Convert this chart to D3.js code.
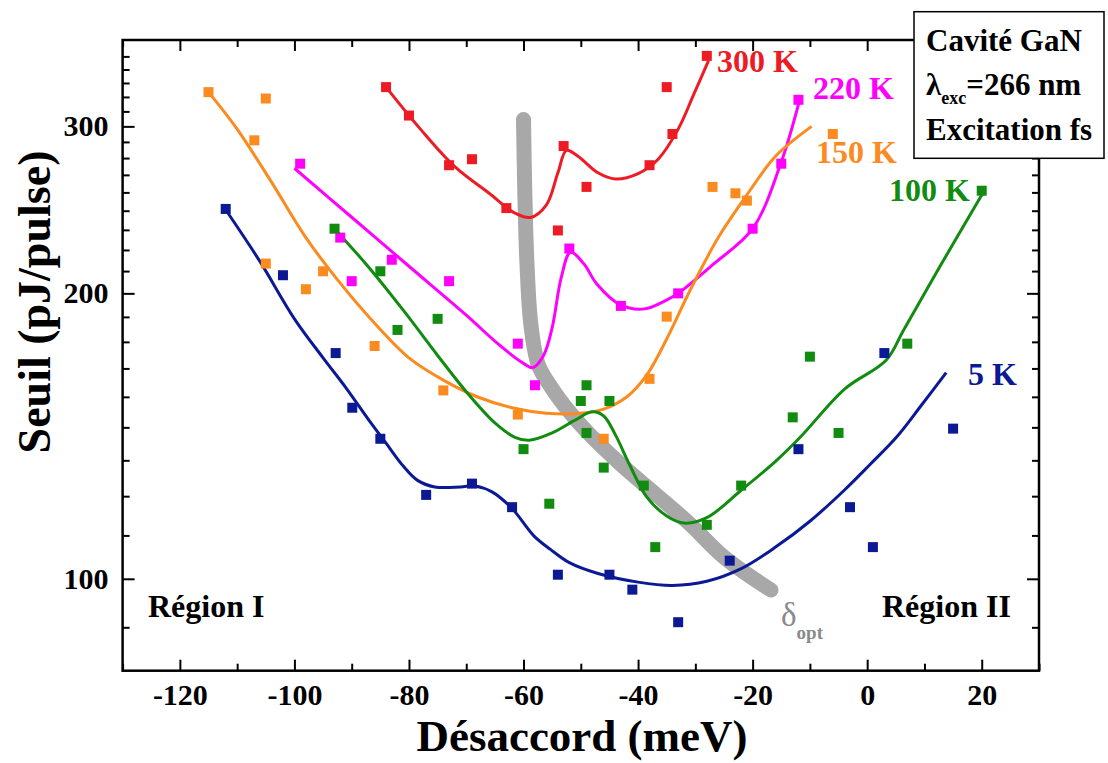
<!DOCTYPE html>
<html>
<head>
<meta charset="utf-8">
<script src="https://cdn.jsdelivr.net/npm/d3@7"></script>
<style>
  html, body { margin: 0; padding: 0; background: #fff; }
  svg { display: block; }
  text { font-family: "Liberation Serif", "Times New Roman", serif; font-weight: bold; }
</style>
</head>
<body>
<svg id="chart" width="1108" height="763"></svg>
<script>
// ---------- DATA ----------
const xTickValues = [-120, -100, -80, -60, -40, -20, 0, 20];
const yTickValues = [100, 200, 300];

// measured points [désaccord (meV), seuil (pJ/pulse)]
const pts300K = [[-84,330],[-80,308],[-73,273],[-69,277],[-63,246],[-54,233],[-53,286],[-49,259],[-38,273],[-34,294.5],[-35,330],[-28,356]];
const pts220K = [[-99,274],[-92,229],[-90,206],[-83,217],[-73,206],[-61,177],[-58,160],[-52,223],[-43,194],[-33,200],[-20,234],[-15,274],[-12,320]];
const pts150K = [[-115,326],[-107,290],[-105,321],[-105,215],[-98,202],[-95,211],[-86,176],[-74,158],[-61,149],[-46,140.5],[-38,162.5],[-35,189],[-27,259],[-23,255],[-21,250.5],[-6,294.5]];
const pts100K = [[-93,234],[-85,211],[-82,183],[-75,188],[-60,137],[-55.5,120],[-50,154],[-49,160],[-45,154],[-49,142.5],[-46,131],[-39,125.4],[-37,108],[-28,114],[-22,125.4],[-13,148],[-10,171.5],[-5,142.5],[7,177],[20,256.6]];
const pts5K   = [[-112,245.5],[-102,209],[-92.8,173],[-89.9,151.5],[-85,140.5],[-77,122.6],[-69,126],[-62,119],[-54,101],[-45,101],[-41,97.4],[-33,90],[-24,104.5],[-12,137],[-3,119],[1,108],[3,173],[15,144]];

// fitted (guide) curves
const fit300K = [[-84,330],[-78,298],[-72,272],[-66,255],[-61.5,243],[-58.8,240.5],[-56,248],[-54,268],[-52.5,283],[-50.5,279],[-47,268],[-44,264],[-40,267.5],[-36.5,277],[-33,298],[-30.3,324],[-27.7,352]];
const fit220K = [[-100,271],[-90,240.6],[-80,213.6],[-70,189.7],[-64.5,177],[-60.5,169.5],[-58.4,167],[-56.5,172],[-55,184],[-53.4,208],[-51.8,221],[-49.5,215],[-47.2,204.6],[-43.1,194.5],[-38.9,192.6],[-35.2,196.5],[-33,200],[-26.8,214.8],[-20,234],[-15.1,274],[-11.9,318]];
const fit150K = [[-115,326],[-110,298],[-104,262],[-98,229],[-92,205],[-86,186],[-80,171],[-74,162],[-68,155.5],[-62,151.5],[-56,149.5],[-50,149.5],[-46,151],[-42,155.5],[-38.5,164],[-35,179],[-31,201],[-26,229],[-21,254],[-16,279],[-9.7,300]];
const fit100K = [[-93,234],[-87,213],[-81,192],[-75,172],[-70,157.5],[-65,146],[-61.5,141],[-59,140],[-55,142.5],[-51,147],[-48,150],[-46,148.5],[-44,142],[-41.5,132],[-38.5,122],[-35,116.5],[-32,114.5],[-28,116],[-22,124],[-16,133],[-11.7,141],[-3.9,158.6],[3.3,170],[6.3,182.6],[13,215],[20.1,254.6]];
const fit5K   = [[-112,245],[-106,216],[-100,188],[-95,171],[-91,159],[-87,147],[-84,139],[-81,131.5],[-78.5,127],[-75.5,125],[-71,125],[-68.5,125.3],[-65.5,123.5],[-62,118.6],[-58.2,111],[-55.3,107.4],[-52,104],[-47,101.3],[-40,99.2],[-34,98.4],[-28,99.4],[-22,102.5],[-16,108],[-10,115],[-4,124],[0.5,132],[5.1,141],[9.5,152.5],[13.8,165]];

// delta_opt guide band
const deltaOpt = [[-60,305],[-59.8,260],[-59.4,215],[-58.7,185],[-57.4,168],[-55.1,159],[-52,150],[-49.1,143.3],[-43.1,132.2],[-37,122.9],[-31,114.3],[-25,105.4],[-16.8,97.3]];

const seriesNames  = ["300 K", "220 K", "150 K", "100 K", "5 K"];
const seriesColors = ["#ed1c24", "#ff00ff", "#fb8a1f", "#118c11", "#0b1a94"];
const seriesPoints = [pts300K, pts220K, pts150K, pts100K, pts5K];
const seriesFits   = [fit300K, fit220K, fit150K, fit100K, fit5K];

// ---------- LAYOUT ----------
const X0 = 122.6, X1 = 1039, Y0 = 670.7, Y1 = 40;
const labelXY = [[717, 72], [813, 99], [816, 163], [889, 201], [968, 385]];

const svg = d3.select("#chart");
const x = d3.scaleLinear().domain([-130, 30]).range([X0, X1]);
const y = d3.scaleLog().domain([80, 370]).range([Y0, Y1]);

// minor tick values
const xMinor = d3.range(-130, 31, 10).filter(v => !xTickValues.includes(v));
const yMinor = [];
[[80, 100], [100, 200], [200, 300], [300, 400]].forEach(([a, b]) => {
  const step = 100 / 9; // 8 minor ticks between majors, evenly spaced in value
  for (let v = b - step; v > a + 1e-6; v -= step) yMinor.push(v);
});
const yMinorIn = yMinor.filter(v => v > 80.5 && v < 362);

const gAxes = svg.append("g");
function styleAxis(g) {
  g.select(".domain").remove();
  g.selectAll(".tick line").attr("stroke", "#000").attr("stroke-width", 2);
  g.selectAll(".tick text").attr("fill", "#000")
    .style("font-size", "30px").style("font-weight", "bold")
    .style("font-family", '"Liberation Serif", "Times New Roman", serif');
}
const fmt = d => String(d);
// bottom
gAxes.append("g").attr("transform", `translate(0,${Y0})`)
  .call(d3.axisBottom(x).tickValues(xTickValues).tickSize(-11).tickPadding(13).tickFormat(fmt))
  .call(styleAxis);
gAxes.append("g").attr("transform", `translate(0,${Y0})`)
  .call(d3.axisBottom(x).tickValues(xMinor).tickSize(-7).tickFormat(""))
  .call(styleAxis);
// top
gAxes.append("g").attr("transform", `translate(0,${Y1})`)
  .call(d3.axisTop(x).tickValues(xTickValues).tickSize(-11).tickFormat(""))
  .call(styleAxis);
gAxes.append("g").attr("transform", `translate(0,${Y1})`)
  .call(d3.axisTop(x).tickValues(xMinor).tickSize(-7).tickFormat(""))
  .call(styleAxis);
// left
gAxes.append("g").attr("transform", `translate(${X0},0)`)
  .call(d3.axisLeft(y).tickValues(yTickValues).tickSize(-12).tickPadding(14).tickFormat(fmt))
  .call(styleAxis);
gAxes.append("g").attr("transform", `translate(${X0},0)`)
  .call(d3.axisLeft(y).tickValues(yMinorIn).tickSize(-7).tickFormat(""))
  .call(styleAxis);
// right
gAxes.append("g").attr("transform", `translate(${X1},0)`)
  .call(d3.axisRight(y).tickValues(yTickValues).tickSize(-12).tickFormat(""))
  .call(styleAxis);
gAxes.append("g").attr("transform", `translate(${X1},0)`)
  .call(d3.axisRight(y).tickValues(yMinorIn).tickSize(-7).tickFormat(""))
  .call(styleAxis);

// frame
svg.append("rect").attr("x", X0).attr("y", Y1).attr("width", X1 - X0).attr("height", Y0 - Y1)
  .attr("fill", "none").attr("stroke", "#000").attr("stroke-width", 2.5);

const line = d3.line().x(d => x(d[0])).y(d => y(d[1])).curve(d3.curveCatmullRom.alpha(0.5));

// delta_opt band
svg.append("path").datum(deltaOpt).attr("d", line)
  .attr("fill", "none").attr("stroke", "#a8a8a8").attr("stroke-width", 15)
  .attr("stroke-linecap", "round").attr("stroke-linejoin", "round");

// fit curves
seriesFits.forEach((f, i) => {
  svg.append("path").datum(f).attr("d", line)
    .attr("fill", "none").attr("stroke", seriesColors[i]).attr("stroke-width", 3);
});

// points
const S = 10;
seriesPoints.forEach((pts, i) => {
  svg.append("g").selectAll("rect").data(pts).join("rect")
    .attr("x", d => x(d[0]) - S / 2).attr("y", d => y(d[1]) - S / 2)
    .attr("width", S).attr("height", S).attr("fill", seriesColors[i]);
});

// series labels
seriesNames.forEach((n, i) => {
  svg.append("text").attr("x", labelXY[i][0]).attr("y", labelXY[i][1])
    .attr("fill", seriesColors[i]).style("font-size", "32px").text(n);
});

// region labels
svg.append("text").attr("x", 148).attr("y", 617).style("font-size", "32px").text("Région I");
svg.append("text").attr("x", 882).attr("y", 617).style("font-size", "32px").text("Région II");

// delta_opt label
const dl = svg.append("text").attr("x", 781).attr("y", 626).attr("fill", "#8a8a8a");
dl.append("tspan").style("font-size", "33px").style("font-weight", "normal").text("δ");
dl.append("tspan").attr("dy", 13).style("font-size", "19px").text("opt");

// axis titles
svg.append("text").attr("x", 582).attr("y", 751).attr("text-anchor", "middle")
  .style("font-size", "45px").text("Désaccord (meV)");
svg.append("text").attr("transform", "translate(50,302) rotate(-90)").attr("text-anchor", "middle")
  .style("font-size", "46px").text("Seuil (pJ/pulse)");

// info box
svg.append("rect").attr("x", 914).attr("y", 11.7).attr("width", 190).attr("height", 146.6)
  .attr("fill", "#fff").attr("stroke", "#000").attr("stroke-width", 1.5);
svg.append("text").attr("x", 926).attr("y", 51).style("font-size", "31px").text("Cavité GaN");
const lt = svg.append("text").attr("x", 926).attr("y", 95).style("font-size", "31px");
lt.append("tspan").text("λ");
lt.append("tspan").attr("dy", 9).style("font-size", "18px").text("exc");
lt.append("tspan").attr("dy", -9).text("=266 nm");
svg.append("text").attr("x", 926).attr("y", 140).style("font-size", "31px").text("Excitation fs");
</script>
</body>
</html>
